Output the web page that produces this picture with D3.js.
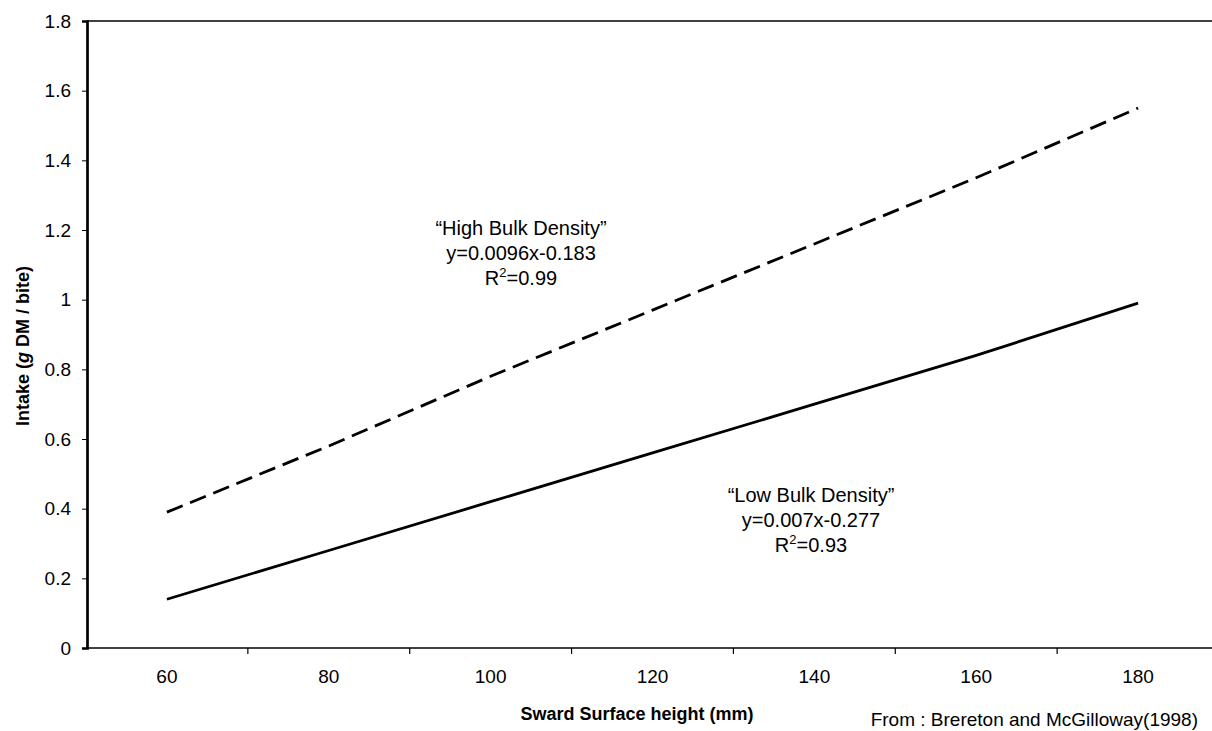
<!DOCTYPE html>
<html>
<head>
<meta charset="utf-8">
<script src="https://cdn.jsdelivr.net/npm/d3@7"></script>
<style>
  body { margin: 0; background: white; }
  svg { font-family: 'Liberation Sans', Arial, sans-serif; }
  .tick text { fill: black; }
</style>
</head>
<body>
<svg id="chart" width="1212" height="731"></svg>
<script>
// category labels on x (sward surface height, mm)
var heights = [60, 80, 100, 120, 140, 160, 180];
// intake values (g DM / bite)
var highBulk = [0.39, 0.58, 0.78, 0.97, 1.16, 1.35, 1.55];
var lowBulk = [0.14, 0.28, 0.42, 0.56, 0.70, 0.84, 0.99];
var yTicks = [0, 0.2, 0.4, 0.6, 0.8, 1, 1.2, 1.4, 1.6, 1.8];

var svg = d3.select("#chart");

var x = d3.scaleBand().domain(heights).range([86, 1219]).padding(0);
var y = d3.scaleLinear().domain([0, 1.8]).range([648, 21]);

function cx(d) { return x(d) + x.bandwidth() / 2; }

// top frame line
svg.append("line")
  .attr("x1", 87).attr("x2", 1212)
  .attr("y1", y(1.8)).attr("y2", y(1.8))
  .attr("stroke", "black").attr("stroke-width", 1.7);

// y axis
var yAxis = svg.append("g")
  .attr("transform", "translate(87,0)")
  .call(d3.axisLeft(y)
    .tickValues(yTicks)
    .tickSize(5)
    .tickPadding(11)
    .tickFormat(function (d) { return d; }));
yAxis.select(".domain").attr("stroke", "black").attr("stroke-width", 2.7);
yAxis.selectAll(".tick line").attr("stroke", "black").attr("stroke-width", 1);
yAxis.selectAll(".tick text").style("font-size", "19px");

// x axis: labels under category centres, ticks between categories
var xAxis = svg.append("g")
  .attr("transform", "translate(0,648)")
  .call(d3.axisBottom(x).tickSize(0).tickPadding(22));
xAxis.select(".domain").attr("d", "M86,0H1212").attr("stroke", "black").attr("stroke-width", 1.7);
xAxis.selectAll(".tick text").style("font-size", "19px");

xAxis.selectAll(".sep")
  .data(heights.slice(1))
  .enter().append("line")
  .attr("class", "sep")
  .attr("x1", function (d) { return x(d); })
  .attr("x2", function (d) { return x(d); })
  .attr("y1", 0).attr("y2", 6)
  .attr("stroke", "black").attr("stroke-width", 1.2);

// lines
var line = d3.line()
  .x(function (d, i) { return cx(heights[i]); })
  .y(function (d) { return y(d); });

svg.append("path")
  .datum(highBulk)
  .attr("d", line)
  .attr("fill", "none")
  .attr("stroke", "black")
  .attr("stroke-width", 2.8)
  .attr("stroke-dasharray", "17,8");

svg.append("path")
  .datum(lowBulk)
  .attr("d", line)
  .attr("fill", "none")
  .attr("stroke", "black")
  .attr("stroke-width", 2.8);

// annotations
function note(xc, yc, title, eq, r2) {
  var g = svg.append("g").attr("text-anchor", "middle").style("font-size", "20px");
  g.append("text").attr("x", xc).attr("y", yc).text(title);
  g.append("text").attr("x", xc).attr("y", yc + 25).text(eq);
  var t = g.append("text").attr("x", xc).attr("y", yc + 50);
  t.append("tspan").text("R");
  t.append("tspan").attr("dy", -8).style("font-size", "13px").text("2");
  t.append("tspan").attr("dy", 8).text("=" + r2);
}
note(521, 235, "\u201CHigh Bulk Density\u201D", "y=0.0096x-0.183", "0.99");
note(811, 502, "\u201CLow Bulk Density\u201D", "y=0.007x-0.277", "0.93");

// axis titles
var yt = svg.append("text")
  .attr("transform", "translate(29,346) rotate(-90)")
  .attr("text-anchor", "middle")
  .style("font-size", "18px")
  .style("font-weight", "bold");
yt.append("tspan").text("Intake (");
yt.append("tspan").style("font-style", "italic").text("g");
yt.append("tspan").text(" DM / bite)");

svg.append("text")
  .attr("x", 637).attr("y", 720)
  .attr("text-anchor", "middle")
  .style("font-size", "18px")
  .style("font-weight", "bold")
  .text("Sward Surface height (mm)");

svg.append("text")
  .attr("x", 1198).attr("y", 726)
  .attr("text-anchor", "end")
  .style("font-size", "19px")
  .text("From : Brereton and McGilloway(1998)");
</script>
</body>
</html>
